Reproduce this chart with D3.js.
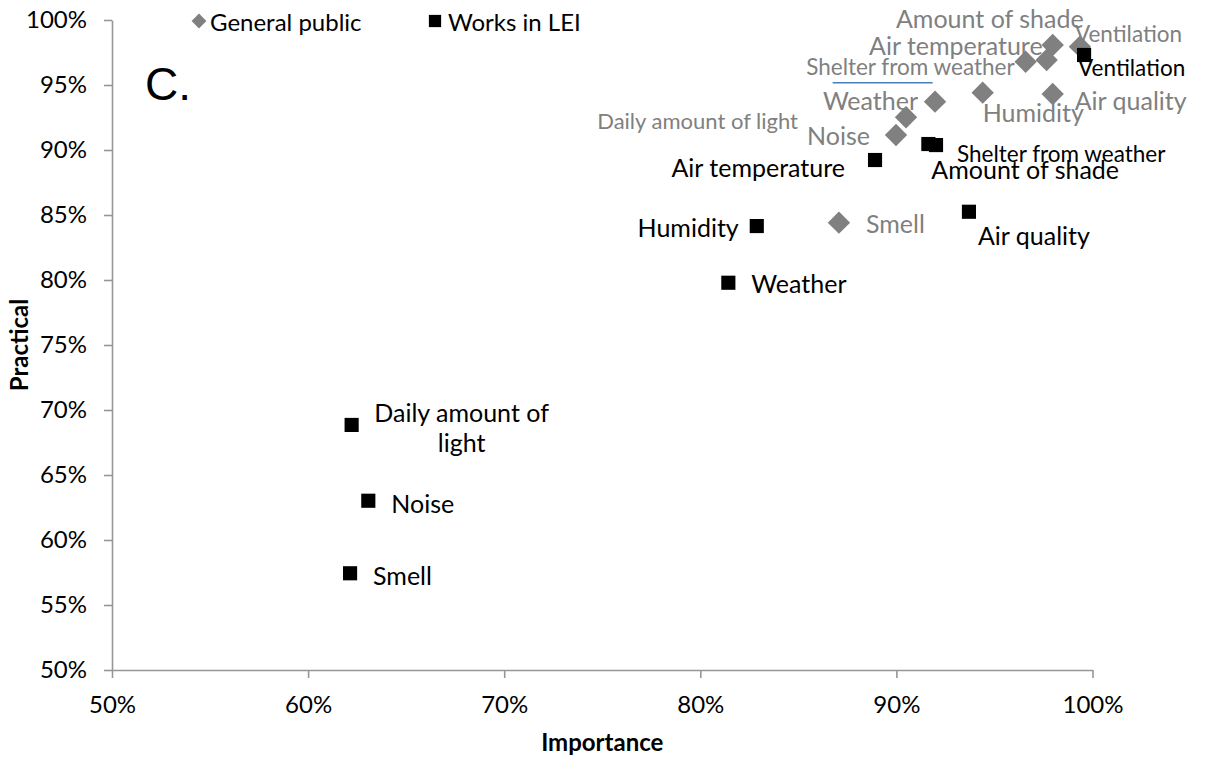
<!DOCTYPE html>
<meta charset="utf-8">
<style>
body { margin: 0; background: #fff; }
svg { display: block; font-family: Lato, "Liberation Sans", sans-serif; }
.axis path, .axis line { stroke: #969696; stroke-width: 1.6px; }
.axis text { font-size: 24px; fill: #000; font-family: Lato, sans-serif; }
.lbl { font-size: 25px; dominant-baseline: central; }
</style>
<svg width="1206" height="760"></svg>
<script src="https://cdn.jsdelivr.net/npm/d3@7"></script>
<script>

var categories = ["Ventilation", "Shelter from weather", "Amount of shade", "Air temperature", "Humidity",
                  "Air quality", "Weather", "Daily amount of light", "Noise", "Smell"];

// General public
var publicImportance = [0.9936, 0.9659, 0.9797, 0.9766, 0.9440, 0.9797, 0.9197, 0.9049, 0.8998, 0.8707];
var publicPractical  = [0.9795, 0.9679, 0.9808, 0.9692, 0.9441, 0.9431, 0.9372, 0.9252, 0.9115, 0.8441];

// Works in LEI
var leiImportance = [0.9957, 0.9202, 0.9163, 0.8891, 0.8288, 0.9370, 0.8143, 0.6222, 0.6307, 0.6214];
var leiPractical  = [0.9731, 0.9038, 0.9046, 0.8923, 0.8415, 0.8525, 0.7979, 0.6885, 0.6302, 0.5744];

var xTicks = [0.5, 0.6, 0.7, 0.8, 0.9, 1.0];
var yTicks = [0.5, 0.55, 0.6, 0.65, 0.7, 0.75, 0.8, 0.85, 0.9, 0.95, 1.0];

// label placement relative to the marker: [dx, dy, anchor, font scale, wrap]
var publicLabelPos = [[-5, -13, "start", 0.9], [-11, 5, "end", 0.9], [31, -27, "end"], [-4, -15, "end"],
                      [0, 19, "start"], [22, 6, "start"], [-17, -2, "end"], [-108, 3, "end", 0.88],
                      [-26, 0, "end"], [27, 0, "start"]];
var leiLabelPos = [[-6, 13, "start", 0.9], [21, 8, "start", 0.9], [3, 25, "start"], [-30, 7, "end"],
                   [-18, 1, "end"], [9, 23, "start"], [23, 0, "start"], [110, 0, "middle", 1, true],
                   [23, 2, "start"], [23, 2, "start"]];

var svg = d3.select("svg"),
    margin = {left: 112, right: 113.5, top: 20, bottom: 90},
    width = +svg.attr("width"),
    height = +svg.attr("height");

var x = d3.scaleLinear().domain([0.5, 1]).range([margin.left, width - margin.right]);
var y = d3.scaleLinear().domain([0.5, 1]).range([height - margin.bottom, margin.top]);
var pct = d3.format(".0%");

svg.append("g").attr("class", "axis")
    .attr("transform", "translate(0," + y(0.5) + ")")
    .call(d3.axisBottom(x).tickValues(xTicks).tickFormat(pct).tickSize(8).tickSizeOuter(0).tickPadding(18));

svg.append("g").attr("class", "axis")
    .attr("transform", "translate(" + x(0.5) + ",0)")
    .call(d3.axisLeft(y).tickValues(yTicks).tickFormat(pct).tickSize(8).tickSizeOuter(0).tickPadding(17));

svg.append("text").attr("x", (x(0.5) + x(1)) / 2).attr("y", 751)
    .attr("text-anchor", "middle").style("font-weight", "bold").style("font-size", "24px")
    .text("Importance");
svg.append("text").attr("transform", "translate(28," + y(0.75) + ") rotate(-90)")
    .attr("text-anchor", "middle").style("font-weight", "bold").style("font-size", "24px")
    .text("Practical");

svg.append("text").attr("x", 145).attr("y", 100)
    .style("font-family", "Liberation Sans, Arial, sans-serif").style("font-size", "46px")
    .text("C.");

var publicData = categories.map(function(c, i) {
  return {name: c, x: publicImportance[i], y: publicPractical[i], pos: publicLabelPos[i]};
});
var leiData = categories.map(function(c, i) {
  return {name: c, x: leiImportance[i], y: leiPractical[i], pos: leiLabelPos[i]};
});

// leader line under the grey "Shelter from weather" label
var sh = publicData[1];
svg.append("line")
    .attr("x1", x(sh.x) - 193).attr("x2", x(sh.x) - 93)
    .attr("y1", y(sh.y) + 21).attr("y2", y(sh.y) + 21)
    .attr("stroke", "#4a7ebb").attr("stroke-width", 1.5);

function labels(data, color) {
  var t = svg.append("g").selectAll("text").data(data).enter().append("text")
      .attr("class", "lbl")
      .attr("fill", color)
      .attr("text-anchor", function(d) { return d.pos[2]; })
      .style("font-size", function(d) { return (25 * (d.pos[3] || 1)) + "px"; })
      .attr("x", function(d) { return x(d.x) + d.pos[0]; })
      .attr("y", function(d) { return y(d.y) + d.pos[1]; });
  t.filter(function(d) { return !d.pos[4]; }).text(function(d) { return d.name; });
  t.filter(function(d) { return d.pos[4]; }).each(function(d) {
    var words = d.name.split(" "), last = words.pop();
    var el = d3.select(this);
    el.append("tspan").attr("x", x(d.x) + d.pos[0]).attr("y", y(d.y) - 13).text(words.join(" "));
    el.append("tspan").attr("x", x(d.x) + d.pos[0]).attr("y", y(d.y) + 17).text(last);
  });
}
labels(publicData, "#808080");
labels(leiData, "#000");

var diamond = d3.symbol().type(d3.symbolSquare).size(250);
var square = d3.symbol().type(d3.symbolSquare).size(200);

svg.append("g").selectAll("path").data(publicData).enter().append("path")
    .attr("d", diamond)
    .attr("transform", function(d) { return "translate(" + x(d.x) + "," + y(d.y) + ") rotate(45)"; })
    .attr("fill", "#808080");

svg.append("g").selectAll("path").data(leiData).enter().append("path")
    .attr("d", square)
    .attr("transform", function(d) { return "translate(" + x(d.x) + "," + y(d.y) + ")"; })
    .attr("fill", "#000");

// legend
var legend = svg.append("g");
legend.append("path").attr("d", d3.symbol().type(d3.symbolSquare).size(110))
    .attr("transform", "translate(199,21) rotate(45)").attr("fill", "#808080");
legend.append("text").attr("class", "lbl").style("font-size", "24px").attr("x", 210).attr("y", 21).text("General public");
legend.append("path").attr("d", d3.symbol().type(d3.symbolSquare).size(150))
    .attr("transform", "translate(435,21)").attr("fill", "#000");
legend.append("text").attr("class", "lbl").style("font-size", "24px").attr("x", 448).attr("y", 21).text("Works in LEI");

</script>
